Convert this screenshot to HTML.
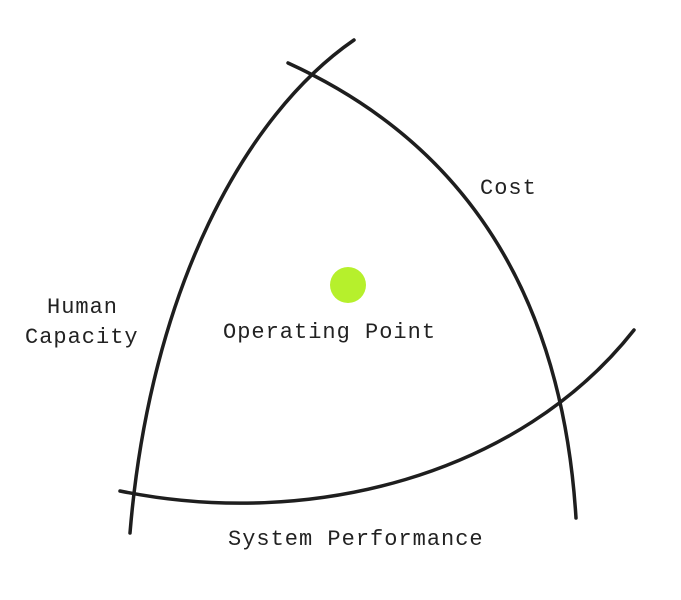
<!DOCTYPE html>
<html><head><style>
body{margin:0;background:#fff;width:681px;height:600px;overflow:hidden}
svg{display:block}
text{font-family:"Liberation Mono","DejaVu Sans Mono",monospace;font-size:22px;fill:#222;letter-spacing:1px}
</style></head><body>
<svg width="681" height="600" viewBox="0 0 681 600">
<g fill="none" stroke="#1e1e1e" stroke-width="3.5" stroke-linecap="round">
<path d="M354,40 C245,115 150,290 130,533"/>
<path d="M288,63 C435,130 560,260 576,518"/>
<path d="M120,491 C310,530 520,475 634,330"/>
</g>
<circle cx="348" cy="285" r="18" fill="#b6f02c"/>
<text x="480" y="194">Cost</text>
<text x="47" y="313">Human</text>
<text x="25" y="343">Capacity</text>
<text x="223" y="338">Operating Point</text>
<text x="228" y="545">System Performance</text>
</svg>
</body></html>
